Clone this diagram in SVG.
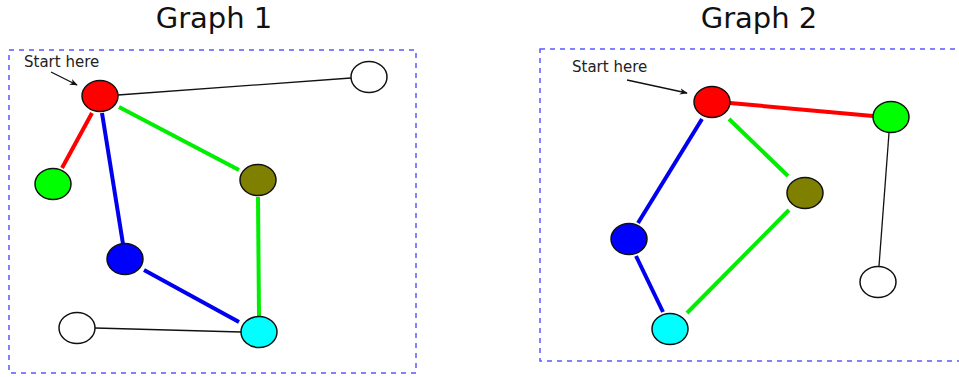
<svg xmlns="http://www.w3.org/2000/svg" width="959" height="377" viewBox="0 0 959 377">
<style>
.title{font-family:"DejaVu Sans",sans-serif;font-size:29px;fill:#111;text-anchor:middle}
.lbl{font-family:"DejaVu Sans",sans-serif;font-size:15px;fill:#222}
.frame{fill:none;stroke:#5a5aff;stroke-width:1.5;stroke-dasharray:5,5}
.n{stroke:#111;stroke-width:1.5}
.e{fill:none;stroke-width:4}
.thin{fill:none;stroke:#111;stroke-width:1.3}
</style>
<defs>
<marker id="ah" viewBox="0 0 10 10" refX="9" refY="5" markerWidth="8" markerHeight="8" orient="auto" markerUnits="userSpaceOnUse">
<path d="M0,1 L10,5 L0,9 L3,5 Z" fill="#111"/>
</marker>
</defs>
<rect width="959" height="377" fill="#fff"/>
<text class="title" x="214" y="28">Graph 1</text>
<text class="title" x="759" y="28">Graph 2</text>
<rect class="frame" x="9" y="50" width="407" height="323"/>
<rect class="frame" x="540" y="49" width="425" height="312"/>
<g id="connectors">
<line class="thin" x1="118" y1="95" x2="351" y2="78"/>
<line class="e" stroke="#ff0000" x1="92" y1="113" x2="62" y2="168"/>
<line class="e" stroke="#0000ee" x1="102" y1="113" x2="123" y2="244"/>
<line class="e" stroke="#00ee00" x1="119" y1="107" x2="239" y2="170"/>
<line class="e" stroke="#00ee00" x1="258" y1="197" x2="259" y2="316"/>
<line class="e" stroke="#0000ee" x1="144" y1="270" x2="239" y2="322"/>
<line class="thin" x1="95" y1="328" x2="241" y2="332"/>
<line class="thin" x1="51" y1="72" x2="77" y2="85" marker-end="url(#ah)"/>
<line class="e" stroke="#ff0000" x1="730" y1="103" x2="873" y2="116"/>
<line class="e" stroke="#0000ee" x1="702" y1="119" x2="638" y2="223"/>
<line class="e" stroke="#00ee00" x1="729" y1="119" x2="788" y2="176"/>
<line class="e" stroke="#0000ee" x1="636" y1="256" x2="663" y2="312"/>
<line class="e" stroke="#00ee00" x1="789" y1="210" x2="687" y2="313"/>
<line class="thin" x1="889" y1="133" x2="879" y2="266"/>
<line class="thin" x1="627" y1="80" x2="687" y2="93" marker-end="url(#ah)"/>
</g>
<text class="lbl" x="24" y="67">Start here</text>
<text class="lbl" x="572" y="72">Start here</text>
<g id="g1-red"><ellipse class="n" cx="100" cy="96" rx="18" ry="15.5" fill="#ff0000"/></g>
<g id="g1-white-top"><ellipse class="n" cx="369" cy="77" rx="18" ry="15.5" fill="#fff"/></g>
<g id="g1-green"><ellipse class="n" cx="53" cy="184" rx="18" ry="15.5" fill="#00ff00"/></g>
<g id="g1-olive"><ellipse class="n" cx="258" cy="180" rx="18" ry="15.5" fill="#808000"/></g>
<g id="g1-blue"><ellipse class="n" cx="125" cy="259" rx="18" ry="15.5" fill="#0000ff"/></g>
<g id="g1-cyan"><ellipse class="n" cx="259" cy="332" rx="18" ry="15.5" fill="#00ffff"/></g>
<g id="g1-white-bottom"><ellipse class="n" cx="77" cy="328" rx="18" ry="15.5" fill="#fff"/></g>
<g id="g2-red"><ellipse class="n" cx="712" cy="102" rx="18" ry="15.5" fill="#ff0000"/></g>
<g id="g2-green"><ellipse class="n" cx="891" cy="117" rx="18" ry="15.5" fill="#00ff00"/></g>
<g id="g2-olive"><ellipse class="n" cx="805" cy="193" rx="18" ry="15.5" fill="#808000"/></g>
<g id="g2-blue"><ellipse class="n" cx="629" cy="239" rx="18" ry="15.5" fill="#0000ff"/></g>
<g id="g2-cyan"><ellipse class="n" cx="670" cy="329" rx="18" ry="15.5" fill="#00ffff"/></g>
<g id="g2-white"><ellipse class="n" cx="878" cy="282" rx="18" ry="15.5" fill="#fff"/></g>
</svg>
